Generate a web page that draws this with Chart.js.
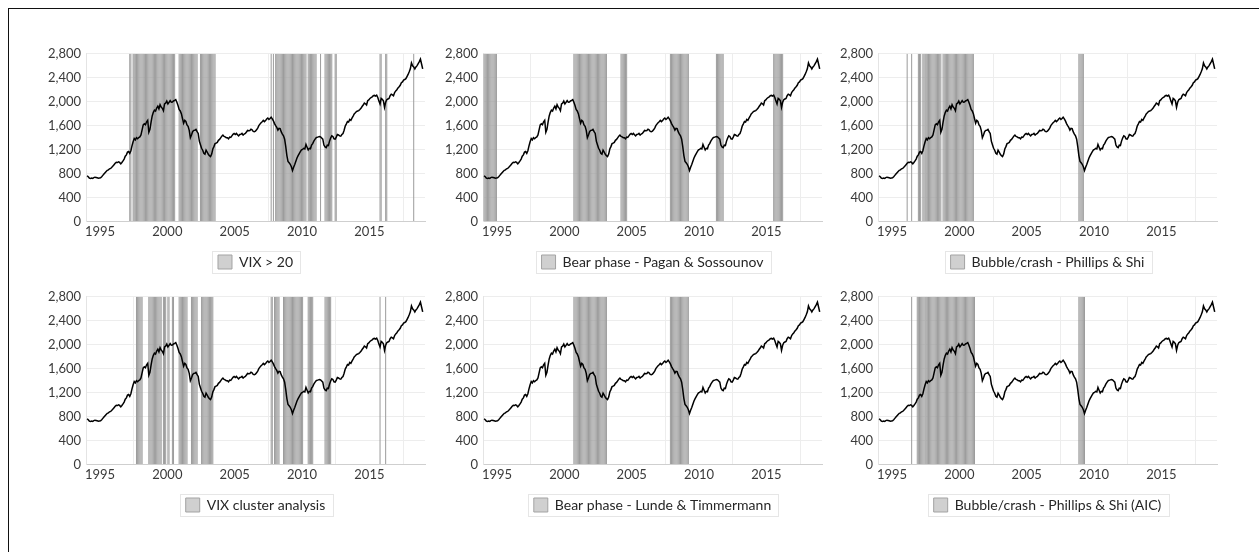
<!DOCTYPE html>
<html>
<head>
<meta charset="utf-8">
<script src="https://cdn.jsdelivr.net/npm/chart.js@4.4.1/dist/chart.umd.min.js"></script>
<style>
  html, body { margin: 0; padding: 0; background: #fff; }
  body { width: 1259px; height: 552px; position: relative; overflow: hidden; }
  .frame { position: absolute; left: 8px; top: 8px; right: -5px; bottom: -5px; border-left: 1px solid #111; border-top: 1px solid #111; }
  canvas { position: absolute; }
</style>
</head>
<body>
<div class="frame"></div>
<canvas id="p0" width="420" height="238" style="left:20px;top:41px"></canvas>
<canvas id="p1" width="420" height="238" style="left:417px;top:41px"></canvas>
<canvas id="p2" width="420" height="238" style="left:812px;top:41px"></canvas>
<canvas id="p3" width="420" height="238" style="left:20px;top:284px"></canvas>
<canvas id="p4" width="420" height="238" style="left:417px;top:284px"></canvas>
<canvas id="p5" width="420" height="238" style="left:812px;top:284px"></canvas>
<script>
// serie mensual, enero 1994 - diciembre 2018
const startYear = 1994;
const indexLevels = [
  765, 748, 725, 718, 724, 720, 732, 740, 736, 730, 724, 728,            // 1994
  730, 748, 770, 792, 815, 835, 855, 862, 880, 886, 905, 925,            // 1995
  948, 972, 988, 984, 996, 986, 962, 985, 1012, 1042, 1090, 1112,        // 1996
  1158, 1168, 1138, 1182, 1262, 1332, 1385, 1362, 1398, 1382, 1402, 1412, // 1997
  1445, 1530, 1612, 1632, 1615, 1665, 1690, 1490, 1540, 1660, 1762, 1822, // 1998
  1858, 1845, 1895, 1925, 1880, 1950, 1910, 1890, 1850, 1962, 1975, 2012, // 1999
  1962, 1990, 2018, 1992, 1996, 2012, 2022, 2036, 1990, 1936, 1870, 1845, // 2000
  1800, 1720, 1640, 1690, 1670, 1612, 1590, 1522, 1400, 1445, 1500, 1522, // 2001
  1525, 1538, 1500, 1470, 1342, 1280, 1222, 1190, 1140, 1123, 1192, 1160, // 2002
  1123, 1100, 1085, 1125, 1210, 1250, 1300, 1310, 1320, 1355, 1370, 1397, // 2003
  1425, 1442, 1420, 1412, 1400, 1398, 1380, 1410, 1405, 1430, 1455, 1470, // 2004
  1452, 1470, 1448, 1430, 1452, 1455, 1470, 1442, 1460, 1470, 1495, 1520, // 2005
  1515, 1520, 1540, 1530, 1505, 1500, 1510, 1530, 1560, 1600, 1625, 1650, // 2006
  1665, 1688, 1668, 1685, 1712, 1726, 1704, 1720, 1742, 1715, 1680, 1635, // 2007
  1600, 1570, 1525, 1555, 1550, 1495, 1460, 1430, 1375, 1250, 1100, 1003, // 2008
  980, 955, 915, 850, 905, 950, 1005, 1060, 1100, 1135, 1165, 1195,       // 2009
  1205, 1222, 1212, 1288, 1240, 1194, 1222, 1215, 1276, 1300, 1342, 1370, // 2010
  1397, 1408, 1413, 1420, 1413, 1395, 1375, 1276, 1245, 1233, 1276, 1270, // 2011
  1342, 1395, 1430, 1420, 1380, 1375, 1410, 1452, 1445, 1430, 1425, 1452, // 2012
  1470, 1523, 1594, 1630, 1670, 1660, 1704, 1690, 1725, 1760, 1797, 1815, // 2013
  1835, 1845, 1852, 1870, 1890, 1920, 1945, 1978, 1965, 1945, 2016, 2030, // 2014
  2055, 2070, 2082, 2099, 2105, 2095, 2110, 2071, 2010, 1961, 2055, 2040, // 2015
  2016, 1907, 1990, 2033, 2045, 2055, 2100, 2126, 2115, 2099, 2154, 2180, // 2016
  2200, 2230, 2250, 2274, 2318, 2330, 2362, 2370, 2384, 2420, 2455, 2500, // 2017
  2548, 2647, 2600, 2581, 2548, 2580, 2603, 2636, 2670, 2712, 2630, 2548  // 2018
];

// periodos marcados (mes inicial, mes final)
const vixAbove20 = [['1997-03', '1997-04'], ['1997-06', '2000-07'], ['2000-11', '2002-03'], ['2002-06', '2003-07'],
  ['2007-09', '2007-09'], ['2007-11', '2007-11'], ['2008-01', '2010-04'], ['2010-06', '2011-01'], ['2011-05', '2011-05'],
  ['2011-09', '2012-03'], ['2012-06', '2012-07'], ['2015-10', '2015-11'], ['2016-03', '2016-04'], ['2018-04', '2018-04']];
const bearPaganSossounov = [['1994-01', '1994-12'], ['2000-09', '2003-02'], ['2004-03', '2004-08'], ['2007-11', '2009-03'],
  ['2011-04', '2011-10'], ['2015-07', '2016-03']];
const bubblePhillipsShi = [['1996-02', '1996-02'], ['1996-06', '1996-06'], ['1996-12', '1997-02'], ['1997-04', '1998-08'],
  ['1998-10', '2001-01'], ['2008-11', '2009-03']];
const vixCluster = [['1997-09', '1998-02'], ['1998-08', '1999-07'], ['1999-09', '1999-11'], ['2000-01', '2000-02'],
  ['2000-05', '2000-06'], ['2000-11', '2001-06'], ['2001-10', '2002-03'], ['2002-07', '2003-05'], ['2007-09', '2007-10'],
  ['2007-12', '2008-04'], ['2008-08', '2010-01'], ['2010-06', '2010-10'], ['2011-09', '2012-02'], ['2015-10', '2015-10'],
  ['2016-03', '2016-03']];
const bearLundeTimmermann = [['2000-09', '2003-02'], ['2007-11', '2009-03']];
const bubblePhillipsShiAic = [['1996-06', '1996-06'], ['1996-11', '2001-02'], ['2008-11', '2009-04']];

const panelLabels = [
  'VIX > 20',
  'Bear phase - Pagan & Sossounov',
  'Bubble/crash - Phillips & Shi',
  'VIX cluster analysis',
  'Bear phase - Lunde & Timmermann',
  'Bubble/crash - Phillips & Shi (AIC)'
];
const panelRegimes = [vixAbove20, bearPaganSossounov, bubblePhillipsShi, vixCluster, bearLundeTimmermann, bubblePhillipsShiAic];

const yTicksMax = 2800;
const yTickStep = 400;
const xTickStep = 5;

Chart.defaults.font.family = 'Lato, "Open Sans", sans-serif';
Chart.defaults.color = '#3a3a3a';

function monthIndex(s) {
  const [y, m] = s.split('-').map(Number);
  return (y - startYear) * 12 + (m - 1);
}

const xValues = indexLevels.map((_, i) => startYear + (i + 0.5) / 12);
const lineData = indexLevels.map((v, i) => ({ x: xValues[i], y: v }));

// recuadro alrededor de la leyenda
const legendFrame = {
  id: 'legendFrame',
  afterDraw(chart) {
    const lg = chart.legend;
    if (!lg || !lg.legendHitBoxes || !lg.legendHitBoxes.length) return;
    const b = lg.legendHitBoxes[0];
    const ctx = chart.ctx;
    ctx.save();
    ctx.strokeStyle = '#e6e6e6';
    ctx.lineWidth = 1;
    ctx.strokeRect(Math.round(b.left - 6) + 0.5, Math.round(b.top - 4) + 0.5, Math.round(b.width + 13), Math.round(b.height + 8));
    ctx.restore();
  }
};

panelLabels.forEach((label, p) => {
  const flags = indexLevels.map(() => null);
  panelRegimes[p].forEach(([a, b]) => {
    for (let i = monthIndex(a); i <= monthIndex(b); i++) flags[i] = yTicksMax;
  });
  const barData = flags.map((v, i) => ({ x: xValues[i], y: v }));

  const ctx = document.getElementById('p' + p).getContext('2d');
  new Chart(ctx, {
    type: 'bar',
    data: {
      datasets: [{
        type: 'line',
        label: 'Index',
        data: lineData,
        borderColor: '#000',
        borderWidth: 1.5,
        pointRadius: 0,
        tension: 0,
        order: 0
      }, {
        type: 'bar',
        label: label,
        data: barData,
        backgroundColor: '#9c9c9c',
        borderWidth: 0,
        barPercentage: 0.9,
        categoryPercentage: 1,
        order: 1
      }]
    },
    options: {
      responsive: false,
      animation: false,
      layout: { padding: { top: 10, right: 15, left: 0, bottom: 0 } },
      plugins: {
        legend: {
          position: 'bottom',
          fullSize: false,
          labels: {
            filter: item => item.datasetIndex === 1,
            generateLabels: chart => Chart.defaults.plugins.legend.labels.generateLabels(chart).map(it => Object.assign(it, {
              fillStyle: '#d0d0d0', strokeStyle: '#a3a3a3', lineWidth: 1
            })),
            boxWidth: 14,
            boxHeight: 14,
            padding: 10,
            color: '#262626',
            font: { size: 14 }
          }
        },
        tooltip: { enabled: false }
      },
      scales: {
        x: {
          type: 'linear',
          min: 1993.96,
          max: 2019.13,
          offset: false,
          ticks: {
            stepSize: xTickStep,
            includeBounds: false,
            autoSkip: false,
            maxRotation: 0,
            padding: 3,
            font: { size: 13 },
            callback: v => String(v)
          },
          grid: { color: '#ededed', drawTicks: false },
          border: { color: '#cfcfcf' },
          afterFit: s => { s.height = 23.5; }
        },
        y: {
          min: 0,
          max: yTicksMax,
          ticks: {
            stepSize: yTickStep,
            padding: 5,
            font: { size: 13 },
            callback: v => v.toLocaleString('en-US')
          },
          grid: { color: '#ededed', drawTicks: false },
          border: { color: '#e4e4e4' },
          afterFit: s => { s.width = 66; }
        }
      }
    },
    plugins: [legendFrame]
  });
});
</script>
</body>
</html>
